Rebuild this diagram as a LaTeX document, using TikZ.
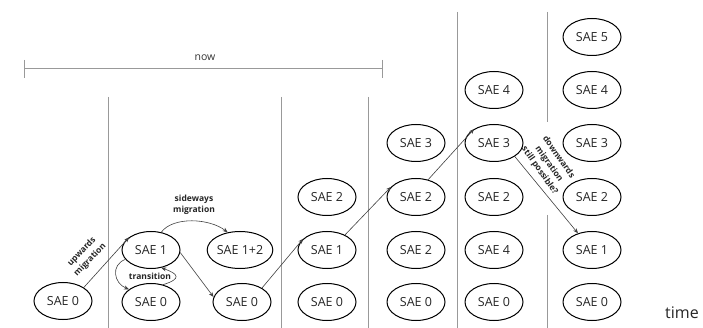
\documentclass[tikz,border=0pt]{standalone}
\usepackage{fontspec}
\setmainfont{Open Sans}
\usetikzlibrary{shapes.geometric,arrows.meta}
\begin{document}
\begin{tikzpicture}[x=1pt,y=-1pt,
 sae/.style={ellipse,draw=black,line width=1pt,minimum width=58pt,minimum height=37pt,inner sep=0pt,font=\fontsize{12.5}{14}\selectfont,text=black!85},
 arr/.style={-{Stealth[length=5pt,width=4pt]},draw=black!75,line width=0.6pt},
 sepline/.style={draw=black!40,line width=0.9pt},
 lbl/.style={font=\fontsize{8.5}{11.5}\selectfont\bfseries,align=center,text=black!85,inner sep=1pt}]
\useasboundingbox[fill=white] (0,0) rectangle (703,328);
% separators
\draw[sepline] (108,97) -- (108,328);
\draw[sepline] (281,97) -- (281,328);
\draw[sepline] (368,97) -- (368,328);
\draw[sepline] (457,12) -- (457,328);
\draw[sepline] (547,12) -- (547,122);
\draw[sepline] (547,215) -- (547,328);
% now bracket
\coordinate (nowL) at (24,68);
\coordinate (nowR) at (382,68);
\draw[sepline] (nowL) -- (nowR);
\draw[sepline] (24,60) -- (24,78);
\draw[sepline] (382,60) -- (382,78);
\node[font=\fontsize{10.5}{12}\selectfont,text=black!80] (now) at (205,58) {now};
\node[font=\fontsize{16}{18}\selectfont,text=black!85] (time) at (682,313) {time};
% nodes
\node[sae] (c0r0) at (63,301) {SAE 0};
\node[sae] (c1r1) at (151,250) {SAE 1};
\node[sae] (c1r0) at (151,302) {SAE 0};
\node[sae] (c1b) at (240,250) {SAE 1+2};
\node[sae] (c2r0) at (242,302) {SAE 0};
\node[sae] (c3r2) at (327,197) {SAE 2};
\node[sae] (c3r1) at (327,250) {SAE 1};
\node[sae] (c3r0) at (327,302) {SAE 0};
\node[sae] (c4r3) at (416,143) {SAE 3};
\node[sae] (c4r2) at (416,197) {SAE 2};
\node[sae] (c4r1) at (416,250) {SAE 2};
\node[sae] (c4r0) at (416,302) {SAE 0};
\node[sae] (c5r4) at (494,90) {SAE 4};
\node[sae] (c5r3) at (494,143) {SAE 3};
\node[sae] (c5r2) at (494,197) {SAE 2};
\node[sae] (c5r1) at (494,250) {SAE 4};
\node[sae] (c5r0) at (494,302) {SAE 0};
\node[sae] (c6r5) at (592,37) {SAE 5};
\node[sae] (c6r4) at (592,90) {SAE 4};
\node[sae] (c6r3) at (592,143) {SAE 3};
\node[sae] (c6r2) at (592,197) {SAE 2};
\node[sae] (c6r1) at (592,250) {SAE 1};
\node[sae] (c6r0) at (592,302) {SAE 0};
% arrows
\draw[arr] (c0r0.33) -- (c1r1.150);
\draw[arr] (c1r1.60) .. controls +(12,-16) and +(-18,-14) .. (c1b.125);
\draw[arr] (c1r1.200) .. controls +(-15,6) and +(-15,-6) .. (c1r0.150);
\draw[arr] (c1r0.55) .. controls +(19,-6) and +(17,6) .. (c1r1.300);
\draw[arr] (c1r1.355) -- (c2r0.170);
\draw[arr] (c2r0.35) -- (c3r1.155);
\draw[arr] (c3r1.40) -- (c4r2.158);
\draw[arr] (c4r2.55) -- (c5r3.145);
\draw[arr] (c5r3.327) -- (c6r1.130);
% labels
\node[lbl,rotate=46] (lup) at (86,256) {upwards\\migration};
\node[lbl] (lside) at (194,205) {sideways\\migration};
\node[lbl] (ltrans) at (150,276) {transition};
\node[lbl,rotate=-55] (ldown) at (549,164) {downwards\\migration\\still possible?};
\end{tikzpicture}
\end{document}
